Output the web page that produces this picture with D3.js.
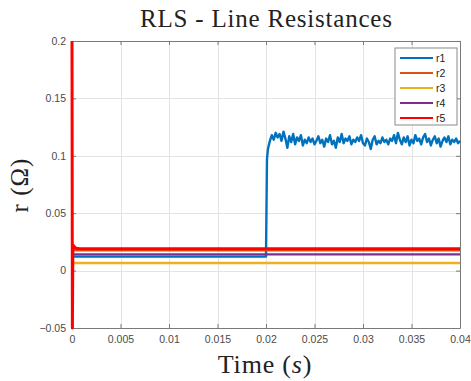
<!DOCTYPE html>
<html>
<head>
<meta charset="utf-8">
<script src="https://cdnjs.cloudflare.com/ajax/libs/d3/7.8.5/d3.min.js"></script>
<style>
  html, body { margin: 0; padding: 0; background: #fff; }
  svg { display: block; }
</style>
</head>
<body>
<div id="graphic"></div>
<script>
// tick labels
var xTicks = [0, 0.005, 0.01, 0.015, 0.02, 0.025, 0.03, 0.035, 0.04];
var yTicks = [-0.05, 0, 0.05, 0.1, 0.15, 0.2];
var seriesNames = ["r1", "r2", "r3", "r4", "r5"];
var seriesColors = ["#0072BD", "#D95319", "#EDB120", "#7E2F8E", "#FF0000"];

// r1: flat until the step at 0.02 s, then noisy estimate sampled every 0.2 ms
var r1StepTime = [0, 0.02, 0.0201];
var r1StepValues = [0.0122, 0.0122, 0.097];
var r1NoiseStart = 0.0202, r1NoiseStep = 0.0002;
var r1Noise = [
  0.106, 0.113, 0.118, 0.114, 0.120, 0.116, 0.119, 0.113, 0.121, 0.115,
  0.107, 0.117, 0.112, 0.119, 0.110, 0.116, 0.113, 0.118, 0.109, 0.114,
  0.111, 0.116, 0.112, 0.115, 0.110, 0.113, 0.117, 0.111, 0.114, 0.108,
  0.115, 0.112, 0.118, 0.110, 0.113, 0.107, 0.116, 0.112, 0.119, 0.111,
  0.115, 0.113, 0.117, 0.110, 0.114, 0.112, 0.116, 0.113, 0.118, 0.111,
  0.109, 0.115, 0.112, 0.106, 0.114, 0.117, 0.110, 0.113, 0.111, 0.116,
  0.112, 0.114, 0.110, 0.115, 0.113, 0.118, 0.111, 0.120, 0.114, 0.110,
  0.116, 0.112, 0.117, 0.109, 0.114, 0.111, 0.118, 0.113, 0.115, 0.110,
  0.116, 0.119, 0.112, 0.115, 0.109, 0.114, 0.117, 0.111, 0.115, 0.108,
  0.113, 0.116, 0.112, 0.117, 0.110, 0.114, 0.112, 0.115, 0.111, 0.113
];

// r2..r4: constant estimates
var r2Time = [0, 0.04], r2Values = [0.0177, 0.0177];
var r3Time = [0, 0.04], r3Values = [0.0066, 0.0066];
var r4Time = [0, 0.04], r4Values = [0.0141, 0.0141];
// r5: start-up transient then constant
var r5Time = [0, 0.00004, 0.00009, 0.00018, 0.0004, 0.0008, 0.04];
var r5Values = [0.2, -0.05, 0.0225, 0.0215, 0.0195, 0.019, 0.019];

var graphic = {};

graphic.create = function() {
  var width = 471, height = 381;
  var margin = {left: 72, right: 11, top: 41, bottom: 53};
  var x = d3.scaleLinear().domain([0, 0.04]).range([margin.left, width - margin.right]);
  var y = d3.scaleLinear().domain([-0.05, 0.2]).range([height - margin.bottom, margin.top]);

  var svg = d3.select("#graphic").append("svg").attr("width", width).attr("height", height);

  // grid
  var grid = svg.append("g").attr("stroke", "#e3e3e3").attr("stroke-width", 1);
  grid.selectAll("line.gx").data(xTicks.slice(1, -1)).enter().append("line")
    .attr("x1", function(d) { return Math.round(x(d)) + 0.5; })
    .attr("x2", function(d) { return Math.round(x(d)) + 0.5; })
    .attr("y1", y(-0.05)).attr("y2", y(0.2));
  grid.selectAll("line.gy").data(yTicks.slice(1, -1)).enter().append("line")
    .attr("y1", function(d) { return Math.round(y(d)) + 0.5; })
    .attr("y2", function(d) { return Math.round(y(d)) + 0.5; })
    .attr("x1", x(0)).attr("x2", x(0.04));

  // series
  var r1Data = r1StepTime.map(function(t, i) { return [t, r1StepValues[i]]; })
    .concat(r1Noise.map(function(v, i) { return [r1NoiseStart + i * r1NoiseStep, v]; }));
  var pair = function(ts, vs) { return ts.map(function(t, i) { return [t, vs[i]]; }); };
  var series = [r1Data, pair(r2Time, r2Values), pair(r3Time, r3Values), pair(r4Time, r4Values), pair(r5Time, r5Values)];
  var line = d3.line().x(function(d) { return x(d[0]); }).y(function(d) { return y(d[1]); });
  var plot = svg.append("g");
  plot.selectAll("path").data(series).enter().append("path")
    .attr("d", line)
    .attr("fill", "none")
    .attr("stroke", function(d, i) { return seriesColors[i]; })
    .attr("stroke-width", function(d, i) { return i == 4 ? 3 : 2.4; })
    .attr("stroke-linejoin", "round");

  // axes box with inward ticks
  var axisColor = "#7a7a7a";
  var bottom = svg.append("g").attr("transform", "translate(0," + y(-0.05) + ")")
    .call(d3.axisBottom(x).tickValues(xTicks).tickSizeInner(-4).tickSizeOuter(0).tickPadding(8)
      .tickFormat(function(d) { return d3.format("~g")(d); }));
  var top = svg.append("g").attr("transform", "translate(0," + y(0.2) + ")")
    .call(d3.axisTop(x).tickValues(xTicks).tickSizeInner(-4).tickSizeOuter(0).tickFormat(""));
  var left = svg.append("g").attr("transform", "translate(" + x(0) + ",0)")
    .call(d3.axisLeft(y).tickValues(yTicks).tickSizeInner(-4).tickSizeOuter(0).tickPadding(6)
      .tickFormat(function(d) { return d3.format("~g")(d); }));
  var right = svg.append("g").attr("transform", "translate(" + x(0.04) + ",0)")
    .call(d3.axisRight(y).tickValues(yTicks).tickSizeInner(-4).tickSizeOuter(0).tickFormat(""));
  [bottom, top, left, right].forEach(function(g) {
    g.select(".domain").attr("stroke", axisColor);
    g.selectAll(".tick line").attr("stroke", axisColor);
    g.selectAll("text").attr("fill", "#4a4a4a").attr("font-family", "Liberation Sans, Arial, sans-serif").attr("font-size", 10.5);
  });

  // red trace sits above the left axis line as in the reference
  plot.raise();

  // legend
  var lg = svg.append("g").attr("transform", "translate(395,48)");
  lg.append("rect").attr("width", 62).attr("height", 77)
    .attr("fill", "#fff").attr("stroke", "#8a8a8a").attr("stroke-width", 1);
  var item = lg.selectAll("g.item").data(seriesNames).enter().append("g")
    .attr("transform", function(d, i) { return "translate(0," + (10 + i * 15) + ")"; });
  item.append("line").attr("x1", 5).attr("x2", 38).attr("y1", 0).attr("y2", 0)
    .attr("stroke", function(d, i) { return seriesColors[i]; }).attr("stroke-width", 2.2);
  item.append("text").attr("x", 41).attr("y", 4).text(function(d) { return d; })
    .attr("font-family", "Liberation Sans, Arial, sans-serif").attr("font-size", 10.5).attr("fill", "#222");

  // titles
  var serif = "Liberation Serif, Times New Roman, serif";
  svg.append("text").attr("x", 266).attr("y", 27).attr("text-anchor", "middle")
    .attr("font-family", serif).attr("font-size", 25).attr("fill", "#222")
    .attr("textLength", 252).attr("lengthAdjust", "spacing")
    .text("RLS - Line Resistances");
  var xl = svg.append("text").attr("x", 265).attr("y", 373).attr("text-anchor", "middle")
    .attr("font-family", serif).attr("font-size", 26).attr("fill", "#222")
    .attr("letter-spacing", 0.8);
  xl.append("tspan").text("Time (");
  xl.append("tspan").attr("font-style", "italic").text("s");
  xl.append("tspan").text(")");
  svg.append("text").attr("transform", "translate(28,185) rotate(-90)").attr("text-anchor", "middle")
    .attr("font-family", serif).attr("font-size", 25).attr("fill", "#222")
    .attr("letter-spacing", 1)
    .text("r (\u03A9)");
};

graphic.create();
</script>
</body>
</html>
